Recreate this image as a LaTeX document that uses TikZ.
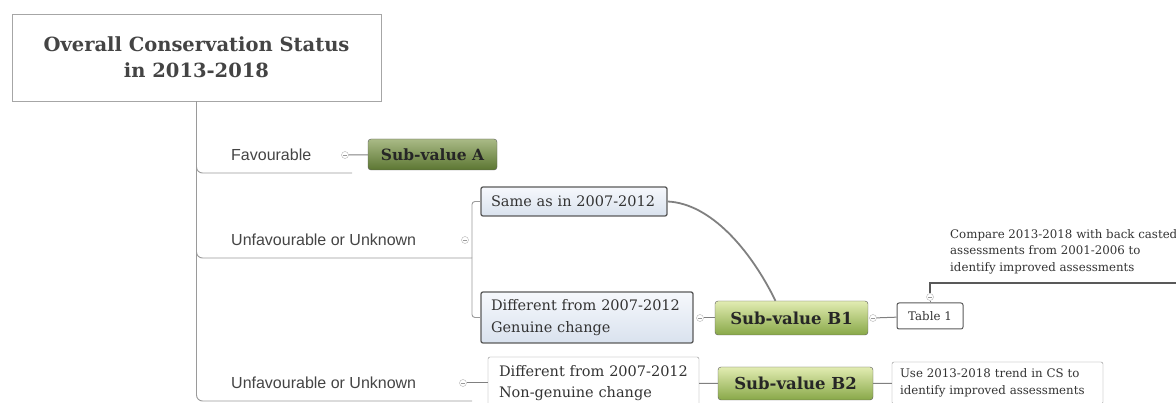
\documentclass[tikz,border=0pt]{standalone}
\usepackage{fontspec}
\setmainfont{DejaVu Serif}
\setsansfont{Liberation Sans}
\usetikzlibrary{positioning,shadings}

\definecolor{branchgrey}{HTML}{9A9A9A}
\definecolor{edgegrey}{HTML}{5A5A5A}
\definecolor{txtgrey}{HTML}{444444}
\definecolor{darktop}{HTML}{A9BA86}
\definecolor{darkbot}{HTML}{5C7632}
\definecolor{lighttop}{HTML}{E2ECB2}
\definecolor{lightbot}{HTML}{88A848}
\definecolor{bluetop}{HTML}{F6F8FC}
\definecolor{bluebot}{HTML}{D9E2EE}

\tikzset{
  central/.style={draw=black!35, text=txtgrey, align=center, inner sep=0pt,
    font=\fontsize{19.5}{26}\selectfont\bfseries},
  branchtxt/.style={anchor=west, inner sep=0pt, text=txtgrey,
    font=\sffamily\fontsize{16}{19}\selectfont},
  subval/.style={draw=edgegrey, rounded corners=3pt, inner sep=0pt, text=black!85,
    font=\fontsize{16.5}{18}\selectfont\bfseries},
  bluebox/.style={draw=edgegrey, line width=1.3pt, rounded corners=2pt, top color=bluetop,
    bottom color=bluebot, align=left, text=black!80, inner ysep=0pt, inner xsep=10pt,
    font=\fontsize{14.5}{21.5}\selectfont},
  plainbox/.style={draw=black!45, rounded corners=2pt, fill=white, align=left,
    text=black!80, inner ysep=0pt, inner xsep=11pt, font=\fontsize{14.5}{21.5}\selectfont},
  notebox/.style={draw=black!45, rounded corners=2pt, fill=white, align=left,
    text=black!80, inner ysep=0pt, inner xsep=8pt, font=\fontsize{11.8}{17.5}\selectfont},
  mk/.style={circle, draw=black!30, fill=white, inner sep=0pt, minimum size=7,
    path picture={\draw[black!40] ([xshift=-2pt]path picture bounding box.center)
      -- ([xshift=2pt]path picture bounding box.center);}},
  branch/.style={draw=branchgrey, line width=0.9pt},
  link/.style={draw=black!50, line width=1pt}
}

\begin{document}
\begin{tikzpicture}[x=1pt,y=-1pt]
\useasboundingbox (0,0) rectangle (1176,403);
\clip (0,0) rectangle (1176,403);

% main topic
\node[central, minimum width=369, minimum height=87] (root) at (196.5,57.5)
  {Overall Conservation Status\\in 2013-2018};

% first level
\node[branchtxt] (fav) at (231,155) {Favourable};
\node[branchtxt] (unfa) at (231,240) {Unfavourable or Unknown};
\node[branchtxt] (unfb) at (231,383) {Unfavourable or Unknown};
\coordinate (favend) at (352,173);
\coordinate (unfaend) at (472,258);
\coordinate (unfbend) at (472,401);
\draw[branch, rounded corners=6pt] (root.south) |- (favend);
\draw[branch, rounded corners=6pt] (root.south) |- (unfaend);
\draw[branch, rounded corners=6pt] (root.south) |- (unfbend);

% second level
\node[subval, font=\fontsize{15.5}{18}\selectfont\bfseries, top color=darktop,
  bottom color=darkbot, minimum width=129, minimum height=31] (suba) at (432.5,154.5)
  {Sub-value A};
\node[bluebox, text width=166, minimum height=29] (same) at (574,201.5)
  {Same as in 2007-2012};
\node[bluebox, text width=192, minimum height=51] (gen) at (587,317.5)
  {Different from 2007-2012\\Genuine change};
\node[plainbox, text width=189, minimum height=52] (nongen) at (593.5,383)
  {Different from 2007-2012\\Non-genuine change};
\draw[branch, rounded corners=3pt] (unfaend) |- (same.west);
\draw[branch, rounded corners=3pt] (unfaend) |- (gen.west);

% sub-values
\node[subval, top color=lighttop, bottom color=lightbot, minimum width=153,
  minimum height=34] (subbone) at (791.5,318) {Sub-value B1};
\node[subval, top color=lighttop, bottom color=lightbot, minimum width=155,
  minimum height=33] (subbtwo) at (795.5,383.5) {Sub-value B2};
\draw[line width=1.8pt, draw=black!50] (same.east) .. controls +(43,2) and +(-25,-51)
  .. ([xshift=-16pt]subbone.north);

% notes
\node[notebox, draw=edgegrey, line width=1pt, align=center, inner xsep=0pt,
  minimum width=66, minimum height=26] (tbl) at (930,316) {Table 1};
\node[inner sep=0pt, anchor=west, align=left, text=black!80,
  font=\fontsize{11.8}{16.5}\selectfont] (cmp) at (950,251.5)
  {Compare 2013-2018 with back casted\\assessments from 2001-2006 to\\identify improved assessments};
\node[notebox, text width=195, minimum height=42] (noteb) at (997.5,383)
  {Use 2013-2018 trend in CS to\\identify improved assessments};
\coordinate (cmpend) at (1176,283);

% collapse markers
\node[mk] (favmk) at (345,155) {};
\node[mk] (unfamk) at (465,240) {};
\node[mk] (unfbmk) at (463,383) {};
\node[mk] (genmk) at (700,318) {};
\node[mk] (bonemk) at (873,318) {};
\node[mk] (tblmk) at (930,297) {};

% connectors
\draw[link] (favmk) -- (suba);
\draw[link] (unfbmk) -- (nongen);
\draw[link] (genmk) -- (subbone);
\draw[link] (bonemk) -- (tbl);
\draw[link] (nongen) -- (subbtwo);
\draw[link] (subbtwo) -- (noteb);
\draw[line width=1.4pt, draw=black!65] (tblmk) |- (cmpend);
\draw[link] (tblmk) -- (tbl);
\end{tikzpicture}
\end{document}
